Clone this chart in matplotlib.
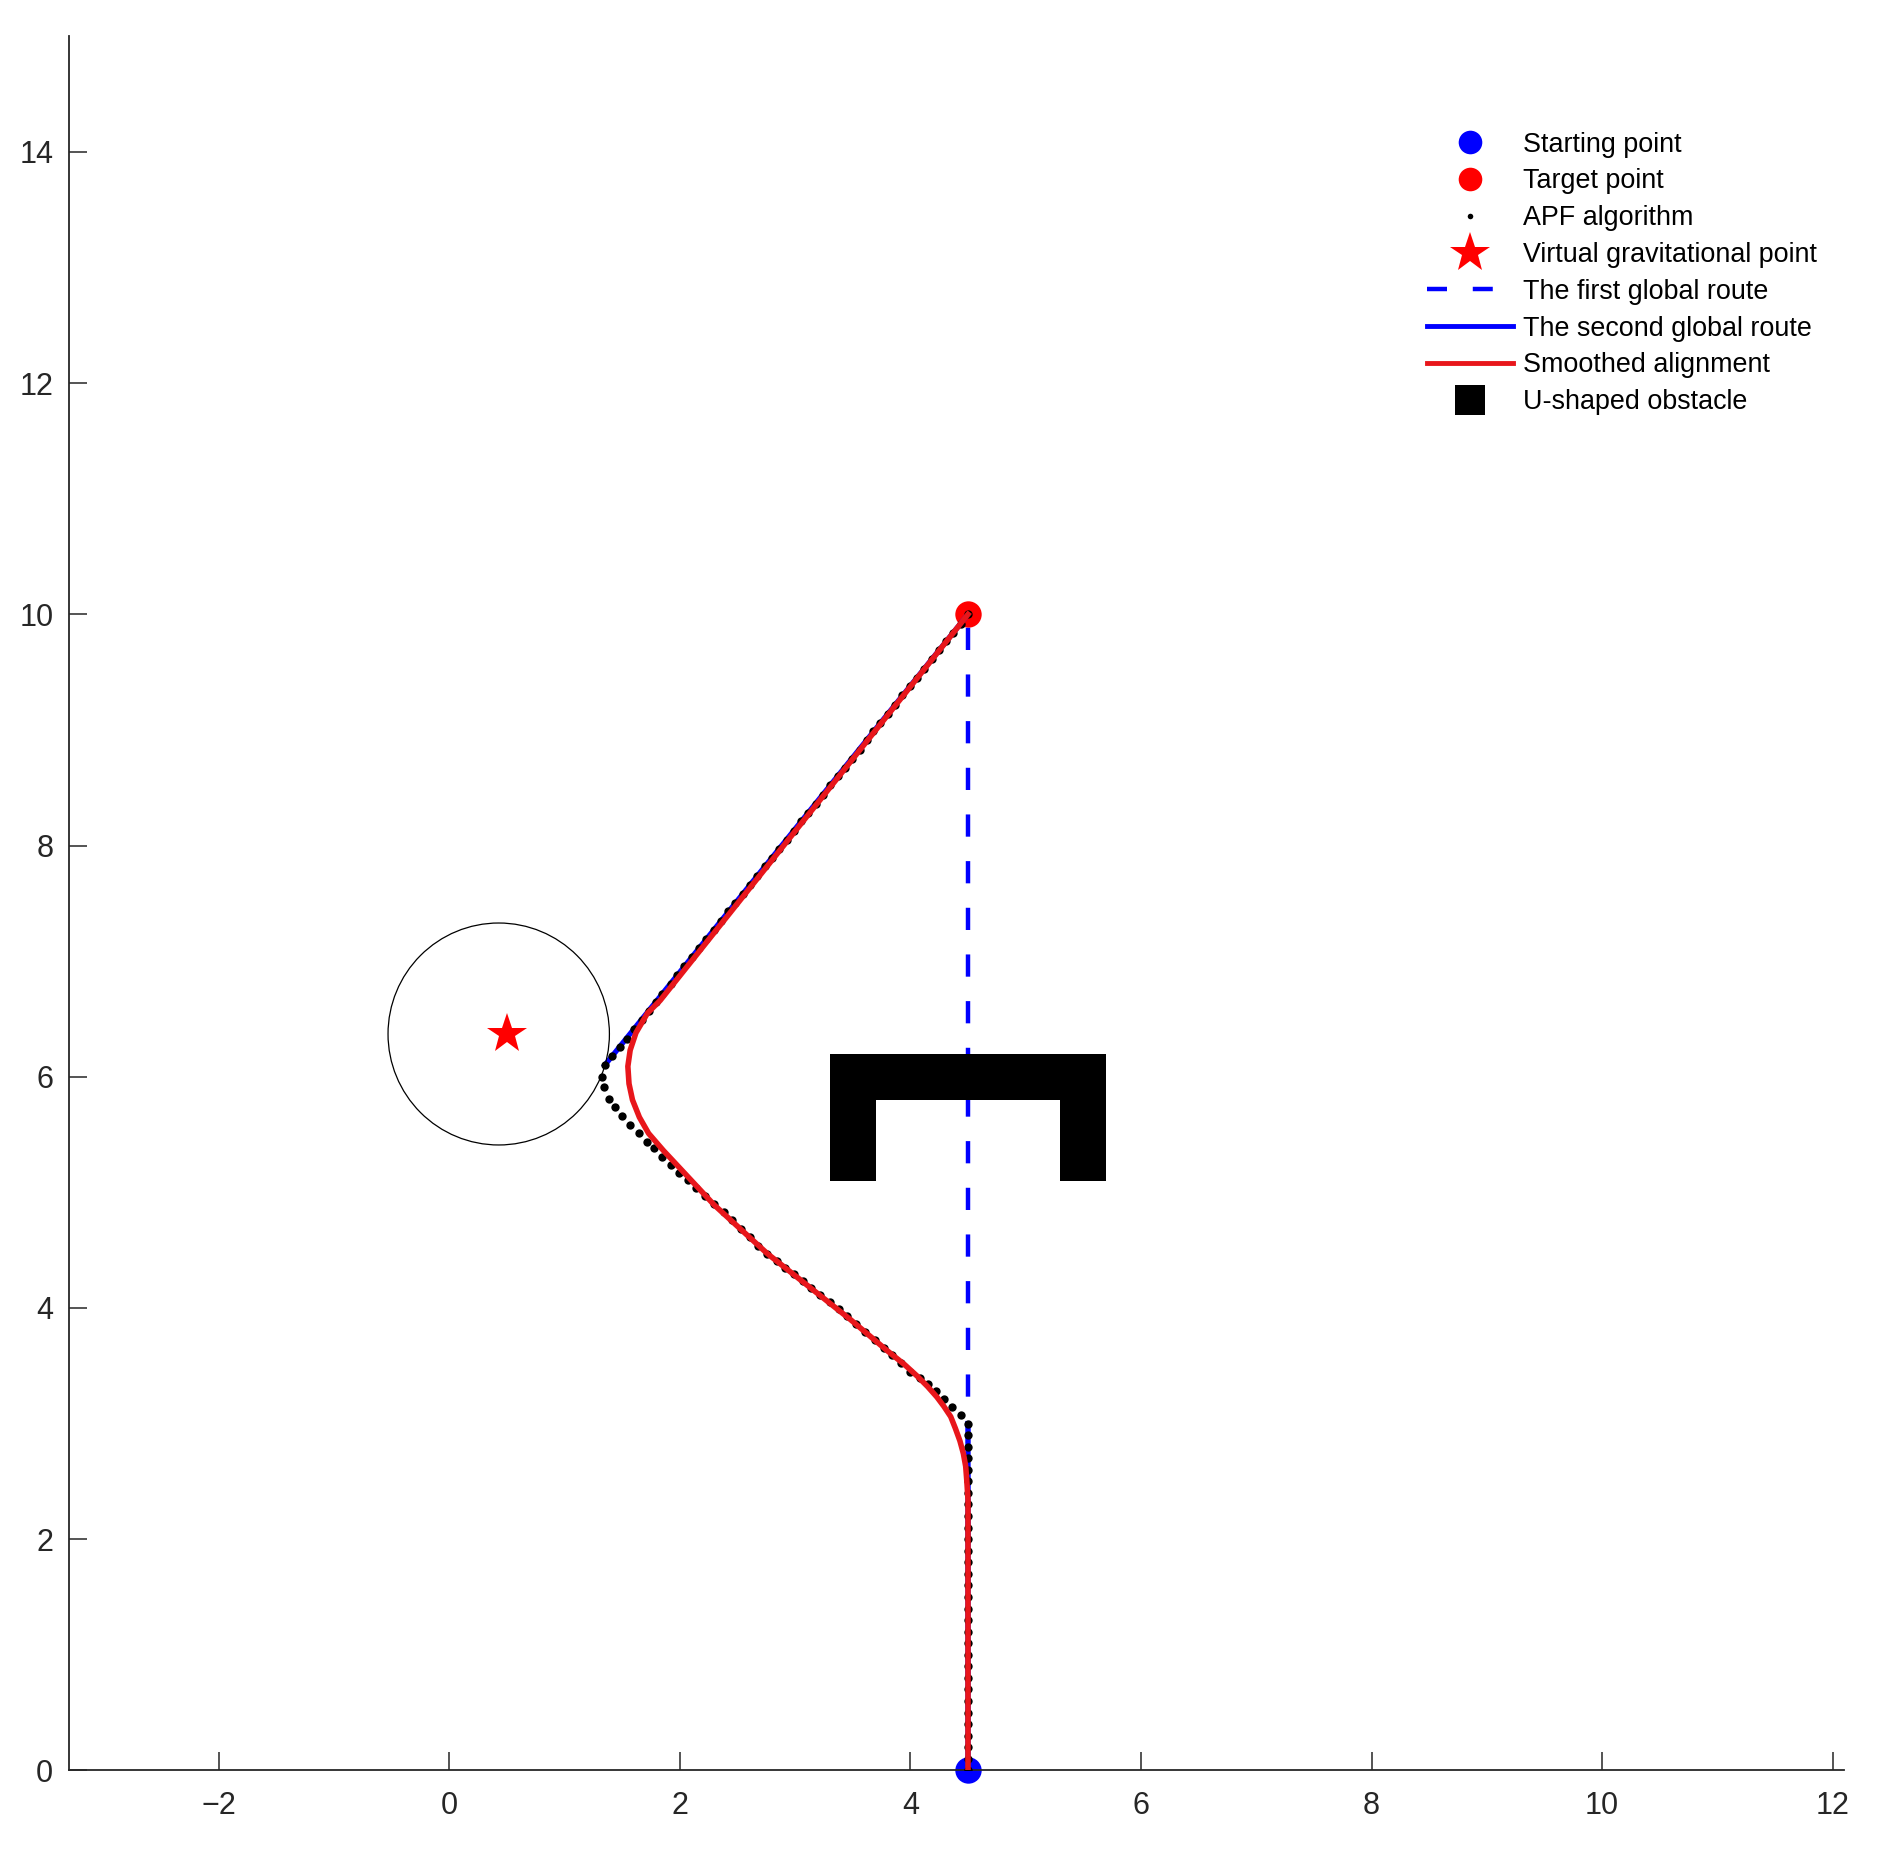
#  plot.py
#  APF経路計画の結果をプロット (U字障害物の回避)

import numpy as np
import matplotlib
matplotlib.use("Agg")
import matplotlib.pyplot as plt
from matplotlib.lines import Line2D
from matplotlib.patches import Polygon, Circle

plt.rcParams['font.family'] = ['Liberation Sans', 'DejaVu Sans']

#  始点・終点・仮想引力点
start_pt = (4.5, 0.0)
target_pt = (4.5, 10.0)
virtual_pt = (0.5, 6.37)
circle_center = (0.43, 6.37)
circle_radius = 0.96

#  U字障害物の頂点
obs_x = [3.3, 3.3, 5.7, 5.7, 5.3, 5.3, 3.7, 3.7]
obs_y = [5.1, 6.2, 6.2, 5.1, 5.1, 5.8, 5.8, 5.1]

#  1本目のグローバル経路 (直線)
route1_x = [4.5, 4.5]
route1_y = [0.0, 10.0]

#  2本目のグローバル経路 (2区間)
route2_x = [4.5, 4.5, np.nan, 1.35, 4.5]
route2_y = [0.0, 3.0, np.nan, 6.10, 10.0]

#  APFアルゴリズムの点列
apf_x = [4.50] * 31 + [
    4.44, 4.36, 4.29, 4.22, 4.15, 4.08, 4.00,
    3.92, 3.84, 3.77, 3.69, 3.61, 3.53, 3.45,
    3.38, 3.30, 3.22, 3.14, 3.07, 2.99, 2.91, 2.84, 2.76,
    2.68, 2.61, 2.53, 2.45, 2.38, 2.30, 2.22, 2.14, 2.07,
    1.99, 1.92, 1.85, 1.78, 1.72, 1.65, 1.57, 1.50, 1.44, 1.39, 1.34, 1.33, 1.35,
    1.41, 1.48, 1.54, 1.60, 1.67, 1.73, 1.79, 1.85, 1.92, 1.98,
    2.04, 2.11, 2.17, 2.23, 2.30, 2.36, 2.42, 2.48, 2.55, 2.61,
    2.67, 2.74, 2.80, 2.86, 2.93, 2.99, 3.05, 3.11, 3.18, 3.24,
    3.30, 3.37, 3.43, 3.49, 3.56, 3.62, 3.68, 3.74, 3.81, 3.87,
    3.93, 4.00, 4.06, 4.12, 4.19, 4.25, 4.31, 4.37, 4.44, 4.50]
apf_y = [0.0, 0.1, 0.2, 0.3, 0.4, 0.5, 0.6, 0.7, 0.8, 0.9,
         1.0, 1.1, 1.2, 1.3, 1.4, 1.5, 1.6, 1.7, 1.8, 1.9,
         2.0, 2.1, 2.2, 2.3, 2.4, 2.5, 2.6, 2.7, 2.8, 2.9, 3.0] + [
    3.07, 3.14, 3.21, 3.28, 3.34, 3.39, 3.45,
    3.52, 3.59, 3.65, 3.72, 3.79, 3.86, 3.93,
    3.99, 4.05, 4.11, 4.17, 4.23, 4.29, 4.35, 4.41, 4.47,
    4.54, 4.61, 4.68, 4.76, 4.83, 4.90, 4.97, 5.04, 5.11,
    5.17, 5.24, 5.31, 5.38, 5.44, 5.51, 5.58, 5.66, 5.74, 5.81, 5.91, 6.00, 6.10,
    6.18, 6.26, 6.33, 6.41, 6.49, 6.57, 6.65, 6.72, 6.80, 6.88,
    6.96, 7.04, 7.11, 7.19, 7.27, 7.35, 7.43, 7.50, 7.58, 7.66,
    7.74, 7.82, 7.89, 7.97, 8.05, 8.13, 8.21, 8.28, 8.36, 8.44,
    8.52, 8.60, 8.67, 8.75, 8.83, 8.91, 8.99, 9.06, 9.14, 9.22,
    9.30, 9.38, 9.45, 9.53, 9.61, 9.69, 9.77, 9.84, 9.92, 10.00]

#  平滑化した経路
smooth_x = [4.50, 4.50, 4.50, 4.50, 4.49, 4.48, 4.46, 4.43, 4.39, 4.35, 4.29,
            4.23, 4.15, 4.06, 3.95, 3.80, 3.48, 2.76, 2.30, 2.01, 1.86, 1.73,
            1.65, 1.59, 1.56, 1.55, 1.57, 1.62, 1.72, 1.83, 4.50]
smooth_y = [0.00, 1.00, 2.05, 2.34, 2.50, 2.63, 2.74, 2.85, 2.96, 3.06, 3.15,
            3.23, 3.32, 3.41, 3.51, 3.63, 3.90, 4.47, 4.89, 5.20, 5.36, 5.51,
            5.65, 5.80, 5.94, 6.09, 6.23, 6.38, 6.55, 6.66, 10.00]

x_ticks = [-2, 0, 2, 4, 6, 8, 10, 12]
y_ticks = [0, 2, 4, 6, 8, 10, 12, 14]

legend_labels = ["Starting point", "Target point", "APF algorithm",
                 "Virtual gravitational point", "The first global route",
                 "The second global route", "Smoothed alignment",
                 "U-shaped obstacle"]

BLUE = '#0000ff'
RED = '#e8161b'
AX_COLOR = '#262626'

fig = plt.figure(figsize=(18.91, 18.54), dpi=100)
ax = fig.add_axes([0.0363, 0.0451, 0.939, 0.9353])

#  始点・終点 (線の下に描く)
ax.plot(*start_pt, 'o', color=BLUE, markersize=19, markeredgewidth=0, zorder=1,
        clip_on=False)
ax.plot(*target_pt, 'o', color='#ff0000', markersize=19, markeredgewidth=0, zorder=1)

#  経路
ax.plot(route1_x, route1_y, color=BLUE, lw=3.2, dashes=(5.0, 5.5), zorder=2)
ax.plot(route2_x, route2_y, color=BLUE, lw=3.8, zorder=3)
ax.plot(apf_x, apf_y, 'o', color='black', markersize=6, markeredgewidth=0, zorder=4)

#  U字障害物
ax.add_patch(Polygon(np.column_stack([obs_x, obs_y]), closed=True,
                     facecolor='black', edgecolor='none', zorder=5))

ax.plot(smooth_x, smooth_y, color=RED, lw=4, solid_joinstyle='round', zorder=6)

#  仮想引力点と影響範囲
ax.add_patch(Circle(circle_center, circle_radius, fill=False, edgecolor='black',
                    lw=0.9, zorder=3))
ax.plot(*virtual_pt, '*', color='#ff0000', markersize=30, markeredgewidth=0, zorder=7)

#  軸の設定 (MATLAB風)
ax.set_xlim(-3.3, 12.1)
ax.set_ylim(0, 15)
ax.set_xticks(x_ticks)
ax.set_yticks(y_ticks)
ax.set_xticklabels([str(t).replace('-', '\u2212') for t in x_ticks])
for s in ['top', 'right']:
    ax.spines[s].set_visible(False)
for s in ['left', 'bottom']:
    ax.spines[s].set_color(AX_COLOR)
    ax.spines[s].set_linewidth(1.3)
ax.tick_params(axis='both', direction='in', length=13, width=1.1,
               colors=AX_COLOR, labelsize=22)
ax.tick_params(axis='x', pad=15)
ax.tick_params(axis='y', pad=11)

#  凡例
handles = [
    Line2D([], [], ls='none', marker='o', color=BLUE, markersize=17, markeredgewidth=0),
    Line2D([], [], ls='none', marker='o', color='#ff0000', markersize=17, markeredgewidth=0),
    Line2D([], [], ls='none', marker='o', color='black', markersize=4, markeredgewidth=0),
    Line2D([], [], ls='none', marker='*', color='#ff0000', markersize=30, markeredgewidth=0),
    Line2D([], [], color=BLUE, lw=3.2, dashes=(4.5, 5.8)),
    Line2D([], [], color=BLUE, lw=3.5),
    Line2D([], [], color=RED, lw=3.5),
    Line2D([], [], ls='none', marker='s', color='black', markersize=21, markeredgewidth=0),
]
fig.legend(handles, legend_labels, loc='upper left', bbox_to_anchor=(0.7546, 0.929),
           bbox_transform=fig.transFigure, frameon=False, fontsize=19.4,
           handlelength=3.2, handletextpad=0.35, labelspacing=0.40,
           borderpad=0, borderaxespad=0)

fig.savefig('out.png', dpi=100)
